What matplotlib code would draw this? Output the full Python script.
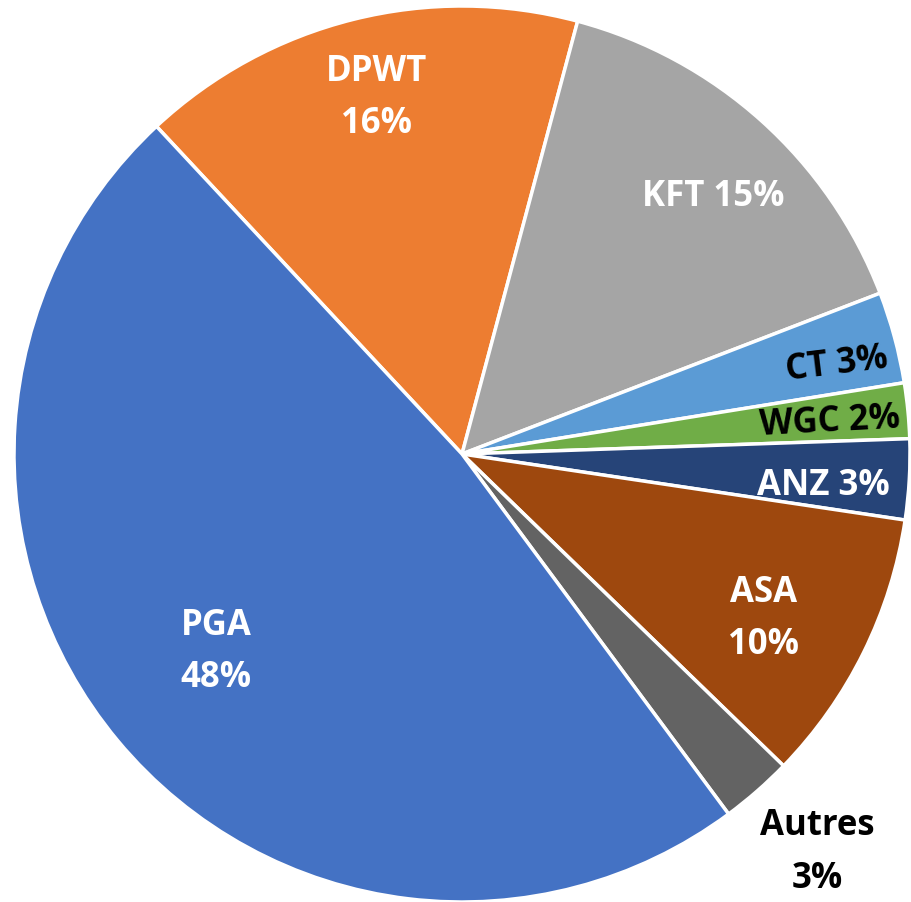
import numpy as np
import matplotlib.pyplot as plt

names = ["DPWT", "KFT", "CT", "WGC", "ANZ", "ASA", "Autres", "PGA"]
shares = [16.1, 15.0, 3.3, 2.0, 2.9, 9.9, 2.6, 48.2]
colors = ["#ED7D31", "#A5A5A5", "#5B9BD5", "#70AD47", "#264478", "#9E480E", "#636363", "#4472C4"]
text_colors = ["white", "white", "black", "black", "white", "white", "black", "white"]
two_lines = [True, False, False, False, False, True, True, True]
# label placement: distance from centre (radius units) and angle shift from wedge middle
label_r = [0.82, 0.805, 0.86, 0.825, 0.81, 0.766, 1.19, 0.703]
label_dang = [-0.6, -2.3, -1.5, -0.5, -1.6, -2.3, 0.6, -1.0]
label_rot = [0, 0, 7, 3, 0, 0, 0, 0]

fig = plt.figure(figsize=(9.11, 9.03), dpi=100)
ax = fig.add_axes([14 / 911, 0 / 903, 896 / 911, 896 / 903])

wedges, _ = ax.pie(shares, colors=colors, startangle=133, counterclock=False,
                   radius=1, wedgeprops=dict(edgecolor="white", linewidth=2.5))

for i, w in enumerate(wedges):
    ang = np.deg2rad((w.theta1 + w.theta2) / 2 + label_dang[i])
    sep = "\n" if two_lines[i] else " "
    ax.text(label_r[i] * np.cos(ang), label_r[i] * np.sin(ang),
            f"{names[i]}{sep}{round(shares[i])}%",
            ha="center", va="center", color=text_colors[i], fontsize=25,
            fontweight="bold", family="Open Sans", linespacing=1.6,
            rotation=label_rot[i], rotation_mode="anchor", clip_on=False)

ax.set_xlim(-1, 1)
ax.set_ylim(-1, 1)
ax.set_aspect("equal")
ax.axis("off")

fig.savefig("out.png", dpi=100)
